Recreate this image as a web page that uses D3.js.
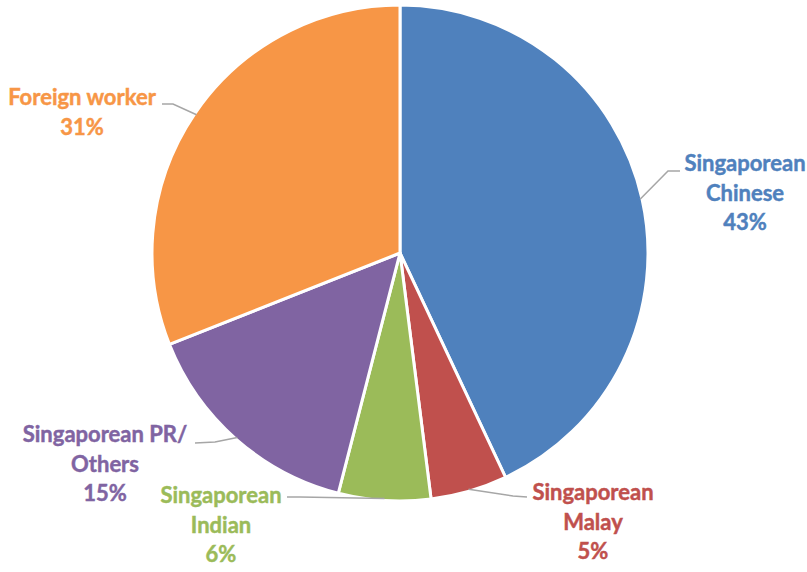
<!DOCTYPE html>
<html>
<head>
<meta charset="utf-8">
<script src="https://cdn.jsdelivr.net/npm/d3@7"></script>
<style>
  html, body { margin: 0; padding: 0; background: #ffffff; }
  svg { display: block; }
  text { font-family: Lato, "Open Sans", sans-serif; font-weight: 700; }
</style>
</head>
<body>
<svg id="chart" width="807" height="572"></svg>
<script>
// Workforce composition
const categories = ["Singaporean Chinese", "Singaporean Malay", "Singaporean Indian", "Singaporean PR/ Others", "Foreign worker"];
const values = [43, 5, 6, 15, 31];
const labelLines = [
  ["Singaporean", "Chinese"],
  ["Singaporean", "Malay"],
  ["Singaporean", "Indian"],
  ["Singaporean PR/", "Others"],
  ["Foreign worker"]
];
const colors = ["#4F81BD", "#C0504D", "#9BBB59", "#8064A2", "#F79646"];

// Label placement relative to the pie centre: text centre x, first baseline y,
// and the leader line's elbow / end points next to the text.
const labelLayout = [
  { x: 345, y: -82, elbow: [268, -82], end: [280, -82] },
  { x: 193, y: 247, elbow: [113, 243], end: [127, 244] },
  { x: -179, y: 250, elbow: [-100, 244], end: [-113, 244] },
  { x: -295, y: 189, elbow: [-185, 189], end: [-205, 190] },
  { x: -318, y: -148, elbow: [-227, -149], end: [-238, -149] }
];

const width = 807, height = 572;
const cx = 400, cy = 253, radius = 248;
const lineStep = 29.5;

const svg = d3.select("#chart");
const g = svg.append("g").attr("transform", `translate(${cx},${cy})`);

const pie = d3.pie().sort(null).value(d => d.value);
const data = categories.map((c, i) => ({ name: c, value: values[i], i }));
const arcs = pie(data);

const arc = d3.arc().innerRadius(0).outerRadius(radius);

g.selectAll("path.slice")
  .data(arcs)
  .join("path")
  .attr("class", "slice")
  .attr("d", arc)
  .attr("fill", d => colors[d.data.i])
  .attr("stroke", "#ffffff")
  .attr("stroke-width", 3)
  .attr("stroke-linejoin", "round");

// Leader lines from the slice edge at its mid-angle to the label
const edgePoint = d => {
  const a = (d.startAngle + d.endAngle) / 2;
  return [Math.sin(a) * (radius - 2), -Math.cos(a) * (radius - 2)];
};

g.selectAll("polyline.leader")
  .data(arcs)
  .join("polyline")
  .attr("class", "leader")
  .attr("points", d => {
    const L = labelLayout[d.data.i];
    return [edgePoint(d), L.elbow, L.end].map(p => p.join(",")).join(" ");
  })
  .attr("fill", "none")
  .attr("stroke", "#A6A6A6")
  .attr("stroke-width", 1.5);

// Category name and percentage labels
const labels = g.selectAll("text.label")
  .data(arcs)
  .join("text")
  .attr("class", "label")
  .attr("text-anchor", "middle")
  .attr("font-size", 22)
  .attr("fill", d => colors[d.data.i])
  .attr("stroke", d => colors[d.data.i])
  .attr("stroke-width", 0.45);

labels.each(function(d) {
  const L = labelLayout[d.data.i];
  const lines = labelLines[d.data.i].concat([d3.format(".0f")(d.data.value) + "%"]);
  d3.select(this).selectAll("tspan")
    .data(lines)
    .join("tspan")
    .attr("x", L.x)
    .attr("y", (t, k) => L.y + k * lineStep)
    .text(t => t);
});
</script>
</body>
</html>
